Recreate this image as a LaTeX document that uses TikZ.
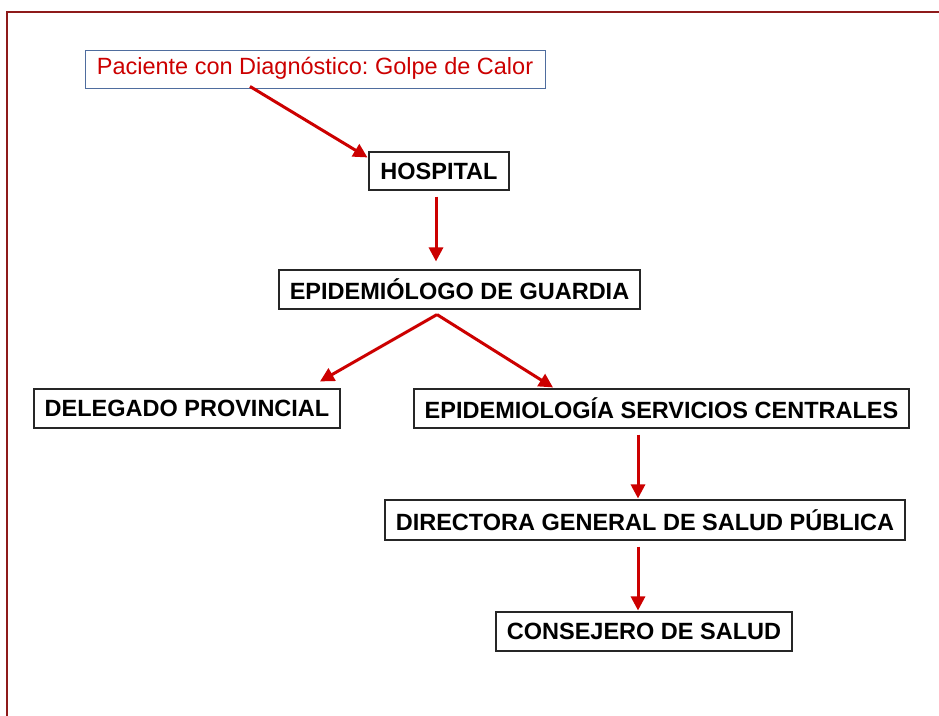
\documentclass[tikz,border=0pt]{standalone}
\usepackage{fontspec}
\setmainfont{Liberation Sans}
\usetikzlibrary{arrows.meta,calc}
\definecolor{framered}{HTML}{8E1A1A}
\definecolor{arrred}{HTML}{CC0000}
\definecolor{boxblue}{HTML}{4F6D9E}
\frenchspacing
\begin{document}
\begin{tikzpicture}[x=1pt,y=-1pt,
  box/.style={draw=black!85,line width=1.1pt,inner sep=0pt,align=center,
    font=\fontsize{23.5}{27}\selectfont\bfseries},
  arr/.style={draw=arrred,line width=3pt,-{Triangle[length=14pt,width=14pt]}}]
\useasboundingbox (0,0) rectangle (939,715);
\fill[white] (0,0) rectangle (939,715);
\draw[framered,line width=2pt] (7,716) -- (7,12) -- (940,12);
\node[draw=boxblue,line width=0.9pt,inner sep=0pt,minimum width=460pt,minimum height=38pt,
  text=arrred,font=\fontsize{23.5}{26}\selectfont] (p) at (315,69) {\strut Paciente con Diagnóstico: Golpe de Calor};
\node[box,minimum width=140pt,minimum height=38pt] (h) at (439,171) {HOSPITAL};
\node[box,minimum width=361pt,minimum height=39pt] (e) at (459.5,289.5) {EPIDEMIÓLOGO DE GUARDIA};
\node[box,minimum width=306pt,minimum height=39pt] (d) at (187,408.5) {DELEGADO PROVINCIAL};
\node[box,minimum width=495pt,minimum height=39pt] (s) at (661.5,408.5) {EPIDEMIOLOGÍA SERVICIOS CENTRALES};
\node[box,minimum width=520pt,minimum height=40pt] (g) at (645,520) {DIRECTORA GENERAL DE SALUD PÚBLICA};
\node[box,minimum width=296pt,minimum height=39pt] (c) at (644,631.5) {CONSEJERO DE SALUD};
\draw[arr] ($(p.south)+(-65,-2)$) -- ($(h.north west)+(-1,6)$);
\draw[arr] ($(h.south)+(-3,6)$) -- ($(e.north)+(-23.5,-8)$);
\coordinate (apex) at ($(e.south)+(-22.5,5)$);
\draw[arr] (apex) -- ($(d.north)+(133,-7)$);
\draw[arr] (apex) -- ($(s.north)+(-108.5,-1)$);
\draw[arr] ($(s.south)+(-23.5,6)$) -- ($(g.north)+(-7,-1)$);
\draw[arr] ($(g.south)+(-7,6)$) -- ($(c.north)+(-6,-1)$);
\end{tikzpicture}
\end{document}
